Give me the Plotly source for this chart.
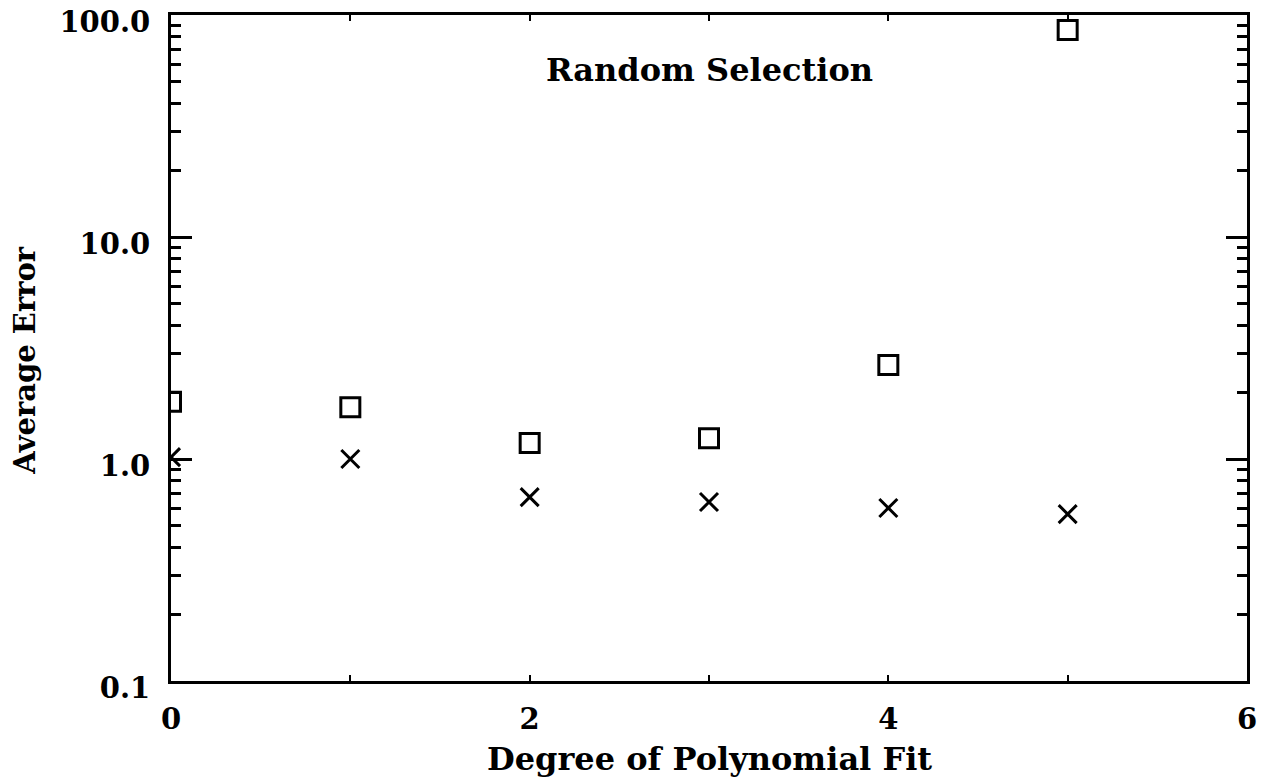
import plotly.graph_objects as go

# Average error vs. polynomial degree (random selection of points)
degree = [0, 1, 2, 3, 4, 5]
err_squares = [1.81, 1.71, 1.18, 1.24, 2.65, 85.6]
err_crosses = [1.02, 1.00, 0.674, 0.640, 0.602, 0.565]

x_tickvals = [0, 1, 2, 3, 4, 5, 6]
x_ticktext = ["0", "", "2", "", "4", "", "6"]
y_tickvals = [0.1, 1.0, 10.0, 100.0]
y_ticktext = ["0.1", "1.0", "10.0", "100.0"]
y_minor = [m * 10 ** e for e in (-1, 0, 1) for m in range(2, 10)]

FONT = "DejaVu Serif"

fig = go.Figure()
fig.add_trace(go.Scatter(
    x=degree, y=err_squares, mode="markers",
    marker=dict(symbol="square-open", size=19, color="black",
                line=dict(width=3, color="black")),
    showlegend=False,
))
fig.add_trace(go.Scatter(
    x=degree, y=err_crosses, mode="markers",
    marker=dict(symbol="x-thin-open", size=18, color="black",
                line=dict(width=3, color="black")),
    showlegend=False,
))

fig.update_layout(
    width=1264, height=782,
    margin=dict(l=171, r=17, t=15, b=101),
    paper_bgcolor="white", plot_bgcolor="white",
    font=dict(family=FONT, color="black", size=29, weight="bold"),
    xaxis=dict(
        range=[0, 6], tickmode="array", tickvals=x_tickvals, ticktext=x_ticktext,
        ticks="inside", ticklen=6, tickwidth=2, tickcolor="black",
        showline=True, linewidth=3, linecolor="black", mirror="allticks",
        showgrid=False, zeroline=False, ticklabelstandoff=10, automargin=False,
        tickfont=dict(family=FONT, size=29, weight="bold"),
    ),
    yaxis=dict(
        type="log", range=[-1, 2.0005], tickmode="array",
        tickvals=y_tickvals, ticktext=y_ticktext,
        ticks="inside", ticklen=21, tickwidth=3, tickcolor="black",
        showline=True, linewidth=3, linecolor="black", mirror="allticks",
        showgrid=False, zeroline=False, ticklabelstandoff=12, ticklabelshift=7,
        ticklabeloverflow="allow", automargin=False,
        tickfont=dict(family=FONT, size=29, weight="bold"),
        minor=dict(tickmode="array", tickvals=y_minor, ticks="inside",
                   ticklen=10, tickwidth=2.5, tickcolor="black", showgrid=False),
    ),
    annotations=[
        dict(text="Random Selection", xref="x", yref="paper", x=3.0, y=0.917,
             showarrow=False, font=dict(family=FONT, size=32, weight="bold"),
             xanchor="center", yanchor="middle"),
        dict(text="Degree of Polynomial Fit", xref="paper", yref="paper",
             x=0.5, y=-0.117, showarrow=False,
             font=dict(family=FONT, size=32, weight="bold"),
             xanchor="center", yanchor="middle"),
        dict(text="Average Error", xref="paper", yref="paper",
             x=-0.136, y=0.482, textangle=-90, showarrow=False,
             font=dict(family=FONT, size=29, weight="bold"),
             xanchor="center", yanchor="middle"),
    ],
)

fig.write_html("out.html")
